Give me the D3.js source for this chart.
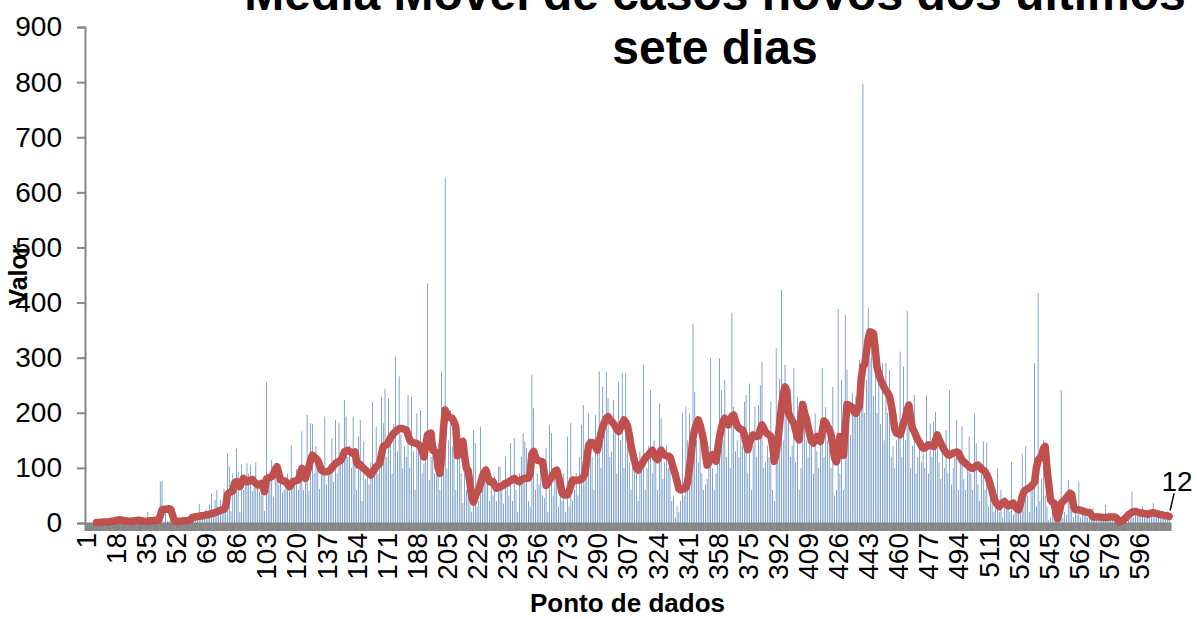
<!DOCTYPE html>
<html>
<head>
<meta charset="utf-8">
<script src="https://cdn.jsdelivr.net/npm/d3@7"></script>
<style>
  html, body { margin: 0; padding: 0; background: #ffffff; }
  svg { display: block; font-family: "Liberation Sans", Arial, sans-serif; }
</style>
</head>
<body>
<div id="chart"></div>
<script>
// Daily new cases (bars), one row per 17 data points
const dailyCases = [
  0,0,0,1,0,2,1,0,1,2,1,3,2,1,4,2,3,
  8,5,4,9,3,2,6,1,3,2,5,4,7,10,2,3,1,
  4,20,2,3,5,1,4,3,75,76,3,25,4,3,4,5,1,
  3,2,5,4,1,6,3,8,17,10,12,9,15,34,10,12,14,
  24,10,34,53,12,42,60,25,42,30,62,40,126,103,22,90,60,
  135,92,20,106,60,75,108,90,106,58,64,110,70,56,62,75,22,
  255,60,90,115,48,105,98,70,102,55,60,84,90,64,140,70,78,
  98,60,74,166,60,85,196,58,181,180,90,140,120,62,100,93,193,
  70,95,108,154,75,187,90,181,110,130,223,193,120,140,100,193,110,
  60,157,187,40,148,80,96,70,110,220,100,175,90,130,229,181,244,
  120,226,150,90,180,302,130,266,160,99,140,120,232,100,229,130,60,
  199,140,205,90,108,120,435,78,120,145,90,140,145,60,275,120,626,
  99,150,205,139,157,60,175,130,90,36,120,60,80,40,20,169,145,
  30,40,175,60,80,96,96,40,70,50,85,40,102,102,60,35,120,
  75,50,145,40,154,60,20,90,120,163,148,136,40,30,269,208,60,
  90,70,110,50,45,136,20,178,163,50,80,95,30,60,40,90,20,
  157,30,181,40,60,90,50,120,178,214,100,80,199,150,120,60,196,
  140,275,100,247,160,275,226,120,130,223,180,90,256,150,272,100,272,
  187,110,60,136,120,90,40,130,110,287,60,100,140,241,90,150,110,
  60,217,190,80,110,140,100,129,40,50,10,30,20,40,199,50,211,
  150,199,90,362,238,150,110,160,90,60,70,80,140,299,100,60,90,
  140,299,241,150,260,120,170,100,381,211,130,150,120,180,140,220,232,
  90,253,60,140,211,120,214,250,293,100,110,140,120,220,60,40,317,
  110,262,423,150,287,253,200,120,140,281,110,229,60,100,211,180,150,
  120,140,160,90,199,130,100,160,281,120,211,150,140,100,247,50,60,
  388,90,260,60,377,278,190,160,235,200,230,200,296,250,797,200,260,
  390,300,350,230,284,200,284,180,290,150,290,200,278,120,140,100,150,
  160,311,120,284,150,385,200,100,140,232,90,120,150,110,140,100,232,
  90,181,120,184,202,140,110,80,150,100,169,90,241,70,100,120,187,
  60,120,175,80,60,110,157,90,60,199,145,70,40,90,148,60,145,
  30,50,40,20,60,99,20,60,10,30,25,40,20,111,15,20,30,
  40,20,126,60,139,50,20,60,70,290,30,417,40,80,150,50,30,
  5,10,20,8,2,5,30,241,10,20,15,78,30,40,10,20,15,
  75,10,20,15,25,10,20,15,27,5,10,8,12,5,10,33,8,
  5,10,8,12,4,2,1,3,6,10,20,15,25,57,10,15,20,
  15,20,30,10,15,20,12,18,36,10,15,20,10,12,15,8,21,
  10
];

// Seven-day moving average (line), starts at the 7th point
const movingAverage = [
  null,null,null,null,null,null,1,1,1,1,2,2,2,2,3,3,4,
  5,5,6,5,5,4,4,3,3,3,4,4,5,5,4,4,3,
  3,3,4,4,4,5,5,5,13,24,25,25,25,26,25,14,4,
  3,3,3,3,4,4,4,5,6,9,11,11,12,12,13,13,14,
  15,15,16,17,18,19,20,22,23,24,25,30,52,55,57,58,72,
  75,70,66,74,81,78,75,76,78,79,75,72,69,70,72,65,57,
  80,82,83,84,90,97,102,90,78,77,76,75,70,66,70,75,76,
  77,78,88,99,90,81,92,102,115,123,120,117,114,105,96,94,93,
  93,94,96,100,104,108,110,112,114,120,129,131,132,130,128,126,129,
  110,105,106,102,99,96,93,90,87,92,97,102,105,108,125,139,141,
  142,148,154,159,163,166,169,171,172,171,170,169,160,150,147,146,145,
  144,142,139,130,120,140,160,162,163,132,130,128,100,90,120,170,205,
  198,193,191,190,183,175,122,135,145,148,120,99,95,72,48,38,48,
  56,60,72,84,92,96,85,75,74,75,68,63,64,66,67,69,72,
  72,75,77,79,81,78,76,75,78,80,81,81,81,90,125,130,120,
  114,113,112,111,90,68,72,78,82,88,94,96,85,72,55,51,51,
  51,58,68,78,78,77,78,78,80,83,90,115,140,146,146,145,138,
  132,148,163,175,183,190,193,188,184,181,176,170,166,172,180,187,183,
  176,160,140,126,112,100,96,102,106,112,118,121,124,128,132,125,118,
  115,125,132,127,123,122,121,120,110,98,88,75,62,60,61,62,64,
  75,100,125,155,170,180,187,178,165,150,125,105,110,122,124,118,112,
  135,157,172,184,190,184,178,186,194,196,185,176,172,170,169,160,145,
  133,145,155,160,158,157,158,170,178,172,165,162,160,157,140,112,128,
  150,181,212,235,247,240,200,192,186,181,168,155,151,190,215,200,190,
  175,160,148,145,150,157,152,148,165,185,182,175,170,160,140,118,111,
  125,157,140,123,170,215,214,212,210,202,199,206,212,260,284,288,310,
  335,347,346,344,315,282,270,260,253,246,240,236,230,215,195,170,163,
  162,160,170,182,190,205,214,190,172,166,158,151,146,140,136,136,139,
  142,141,140,139,150,160,152,145,138,132,128,124,123,125,127,128,129,
  127,120,114,111,108,105,102,100,99,101,104,105,102,98,96,93,88,
  80,69,58,45,38,33,30,33,37,39,35,31,32,35,36,30,26,
  24,35,48,57,60,62,64,66,70,75,100,114,118,122,135,139,99,
  70,42,38,36,20,8,20,36,39,42,46,50,54,52,30,24,24,
  24,23,22,21,20,19,19,15,11,11,11,11,11,10,10,10,10,
  11,11,11,11,10,6,2,3,5,8,11,15,17,19,21,21,20,
  19,18,18,17,17,16,17,18,19,18,17,16,15,15,14,13,13,
  12
];

// Data point numbers and the ones that get a label on the x axis
const categories = dailyCases.map((d, i) => i + 1);
const tickLabels = [1,18,35,52,69,86,103,120,137,154,171,188,205,222,239,256,273,290,
  307,324,341,358,375,392,409,426,443,460,477,494,511,528,545,562,579,596];
const yTicks = [0,100,200,300,400,500,600,700,800,900];

const width = 1197, height = 619;
const plot = { left: 85, right: 1170, top: 27, bottom: 523 };
const tickFont = '28px';

const svg = d3.select('#chart')
  .append('svg')
  .attr('width', width)
  .attr('height', height);

svg.append('rect')
  .attr('width', width)
  .attr('height', height)
  .attr('fill', '#ffffff');

// Scales
const x = d3.scaleBand()
  .domain(categories)
  .range([plot.left, plot.right])
  .paddingInner(0.6)
  .paddingOuter(0.3);

const y = d3.scaleLinear()
  .domain([0, 900])
  .range([plot.bottom, plot.top]);

const cx = c => x(c) + x.bandwidth() / 2;

// Bars
svg.append('g')
  .attr('class', 'bars')
  .selectAll('rect')
  .data(dailyCases)
  .join('rect')
  .attr('x', (d, i) => x(categories[i]))
  .attr('y', d => y(d))
  .attr('width', x.bandwidth())
  .attr('height', d => y(0) - y(d))
  .attr('fill', '#4f81bd');

// X axis: a tick mark at every data point makes the grey band
const xAxis = d3.axisBottom(x)
  .tickValues(categories)
  .tickSize(8)
  .tickPadding(0)
  .tickFormat(d => tickLabels.includes(d) ? d : '');

const xAxisGroup = svg.append('g')
  .attr('transform', `translate(0,${plot.bottom})`)
  .call(xAxis);

xAxisGroup.select('.domain')
  .attr('stroke', '#868686')
  .attr('stroke-width', 2);

xAxisGroup.selectAll('.tick line')
  .attr('stroke', '#868686')
  .attr('stroke-width', 2.2);

xAxisGroup.selectAll('.tick text')
  .attr('transform', 'rotate(-90)')
  .attr('x', -10)
  .attr('y', 0)
  .attr('dy', '0.35em')
  .attr('text-anchor', 'end')
  .attr('fill', '#000')
  .attr('font-size', tickFont)
  .attr('font-family', '"Liberation Sans", Arial, sans-serif');

// Y axis
const yAxis = d3.axisLeft(y)
  .tickValues(yTicks)
  .tickSize(8)
  .tickPadding(15);

const yAxisGroup = svg.append('g')
  .attr('transform', `translate(${plot.left},0)`)
  .call(yAxis);

yAxisGroup.select('.domain')
  .attr('stroke', '#868686')
  .attr('stroke-width', 2);

yAxisGroup.selectAll('.tick line')
  .attr('stroke', '#868686')
  .attr('stroke-width', 2);

yAxisGroup.selectAll('.tick text')
  .attr('fill', '#000')
  .attr('font-size', tickFont)
  .attr('font-family', '"Liberation Sans", Arial, sans-serif');

// Moving average line
const line = d3.line()
  .defined(d => d != null)
  .x((d, i) => cx(categories[i]))
  .y(d => y(d));

svg.append('path')
  .datum(movingAverage)
  .attr('d', line)
  .attr('fill', 'none')
  .attr('stroke', '#c0504d')
  .attr('stroke-width', 7.5)
  .attr('stroke-linejoin', 'round')
  .attr('stroke-linecap', 'round');

// Label of the last moving average value, with leader line
const lastIndex = movingAverage.length - 1;
const lastX = cx(categories[lastIndex]);
const lastY = y(movingAverage[lastIndex]);

svg.append('line')
  .attr('x1', lastX + 5)
  .attr('y1', lastY - 23)
  .attr('x2', lastX + 1)
  .attr('y2', lastY - 6)
  .attr('stroke', '#000')
  .attr('stroke-width', 1.5);

svg.append('text')
  .attr('x', lastX + 8)
  .attr('y', lastY - 25)
  .attr('text-anchor', 'middle')
  .attr('font-size', tickFont)
  .attr('fill', '#000')
  .text(movingAverage[lastIndex]);

// Title (top line is cut by the edge, as in the original)
const title = svg.append('text')
  .attr('text-anchor', 'middle')
  .attr('font-size', '48px')
  .attr('font-weight', 'bold')
  .attr('fill', '#000');

title.append('tspan')
  .attr('x', 715)
  .attr('y', 10)
  .text('Média Móvel de casos novos dos últimos');

title.append('tspan')
  .attr('x', 715)
  .attr('y', 64)
  .text('sete dias');

// Axis titles
svg.append('text')
  .attr('transform', 'translate(27,275) rotate(-90)')
  .attr('text-anchor', 'middle')
  .attr('font-size', '25px')
  .attr('font-weight', 'bold')
  .attr('fill', '#000')
  .text('Valor');

svg.append('text')
  .attr('x', (plot.left + plot.right) / 2)
  .attr('y', 612)
  .attr('text-anchor', 'middle')
  .attr('font-size', '26px')
  .attr('font-weight', 'bold')
  .attr('fill', '#000')
  .text('Ponto de dados');
</script>
</body>
</html>
